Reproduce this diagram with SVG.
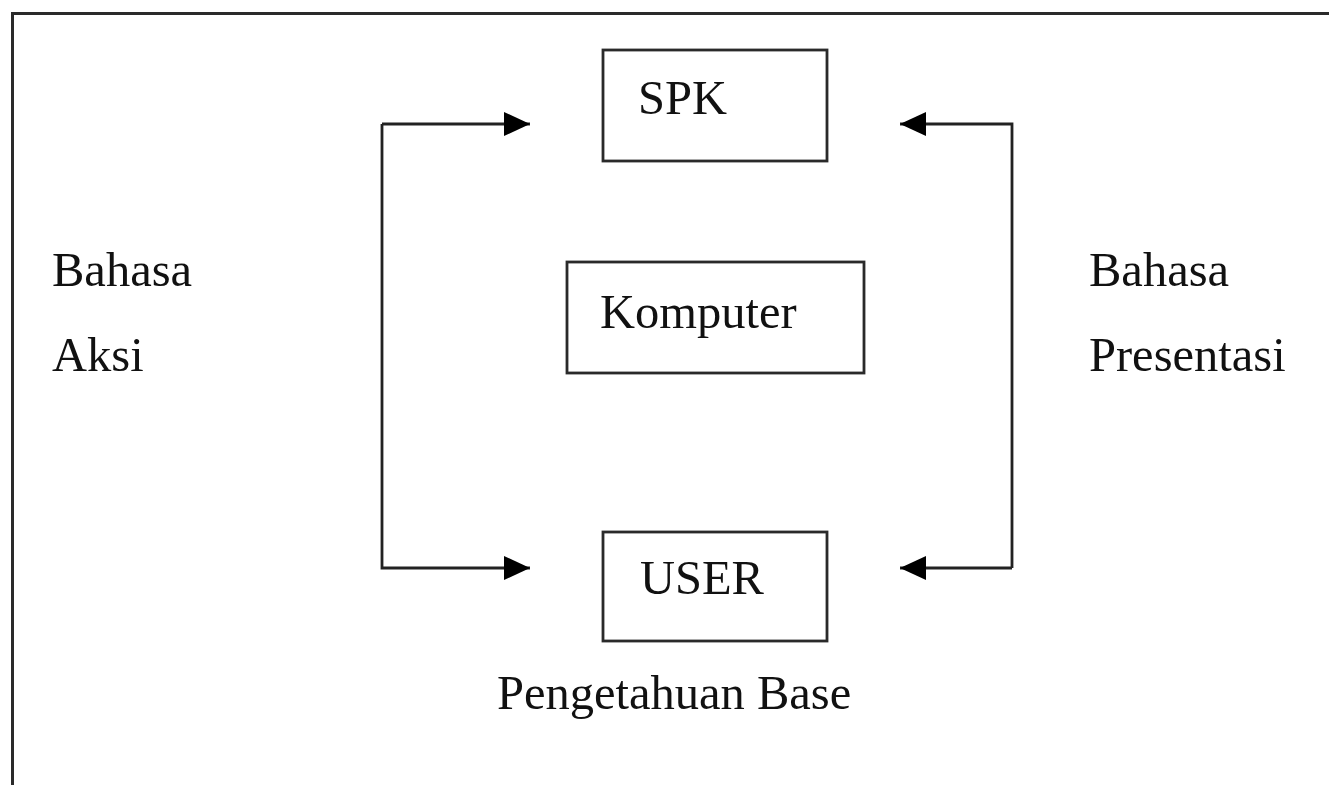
<svg xmlns="http://www.w3.org/2000/svg" width="1329" height="785" viewBox="0 0 1329 785">
  <defs>
    <style>
      .box { fill: #ffffff; stroke: #2a2a2a; stroke-width: 2.8; }
      .conn { fill: none; stroke: #222222; stroke-width: 2.8; }
      .t { font-family: "Liberation Serif", "Times New Roman", serif; font-size: 48.5px; fill: #111111; }
    </style>
    <marker id="arr" markerUnits="userSpaceOnUse" viewBox="0 0 26 24" markerWidth="26" markerHeight="24" refX="26" refY="12" orient="auto">
      <polygon points="0,0 26,12 0,24" fill="#000000"/>
    </marker>
  </defs>
  <rect x="0" y="0" width="1329" height="785" fill="#ffffff"/>
  <path d="M12.5,790 L12.5,13.5 L1335,13.5" fill="none" stroke="#2a2a2a" stroke-width="3"/>

  <g id="connectors">
    <path class="conn" d="M382,124 L382,568 L530,568" marker-end="url(#arr)"/>
    <path class="conn" d="M382,124 L530,124" marker-end="url(#arr)"/>
    <path class="conn" d="M1012,568 L1012,124 L900,124" marker-end="url(#arr)"/>
    <path class="conn" d="M1012,568 L900,568" marker-end="url(#arr)"/>
  </g>

  <g id="spk">
    <rect class="box" x="603" y="50" width="224" height="111"/>
    <text class="t" x="638" y="114">SPK</text>
  </g>
  <g id="komputer">
    <rect class="box" x="567" y="262" width="297" height="111"/>
    <text class="t" x="600" y="328">Komputer</text>
  </g>
  <g id="user">
    <rect class="box" x="603" y="532" width="224" height="109"/>
    <text class="t" x="640" y="594">USER</text>
  </g>
  <g id="bahasa-aksi">
    <text class="t" x="52" y="286">Bahasa</text>
    <text class="t" x="52" y="371">Aksi</text>
  </g>
  <g id="bahasa-presentasi">
    <text class="t" x="1089" y="286">Bahasa</text>
    <text class="t" x="1089" y="371">Presentasi</text>
  </g>
  <g id="pengetahuan-base">
    <text class="t" x="497" y="709">Pengetahuan Base</text>
  </g>
</svg>
